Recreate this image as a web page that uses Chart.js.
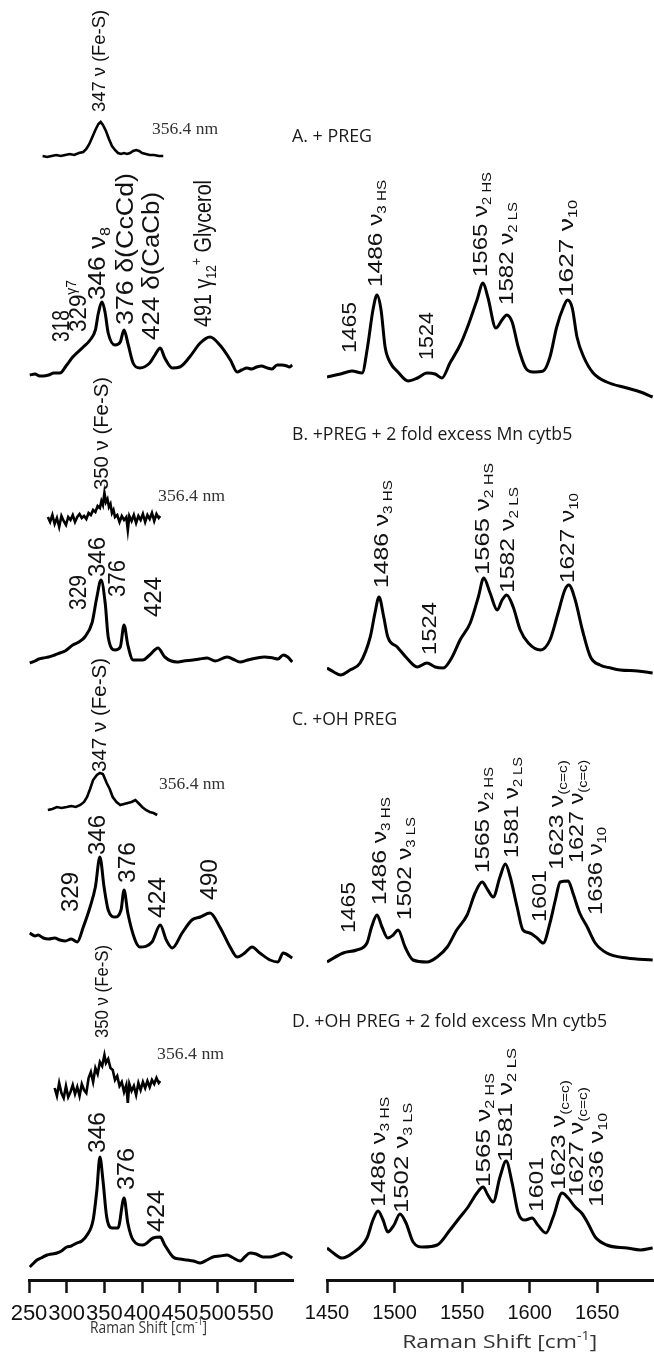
<!DOCTYPE html>
<html lang="en">
<head>
<meta charset="UTF-8">
<title>Resonance Raman spectra</title>
<style>
    body { margin: 0; background: #fff; }
    #wrap { position: relative; width: 654px; height: 1353px; }
    #low { position: absolute; left: 0; top: 0; }
    #high { position: absolute; left: 280px; top: 0; }
</style>
<script src="https://cdn.jsdelivr.net/npm/chart.js"></script>
</head>
<body>
<div id="wrap">
    <canvas id="low" width="300" height="1353"></canvas>
    <canvas id="high" width="374" height="1353"></canvas>
</div>
<script>
// tick labels
const lowTicks = [250, 300, 350, 400, 450, 500, 550];
const highTicks = [1450, 1500, 1550, 1600, 1650];

// A. + PREG
const aInsetX = [268,274,280,286,292,298,304,310,316,322,326,330,334,338,342,345,348,352,356,360,364,368,372,376,380,384,388,392,396,400,405,410,416,422,428];
const aInsetY = [0,-1,0,1,0,1,2,1,3,4,7,12,19,26,32,34,31,25,17,10,6,3,2,3,2,3,5,6,5,3,2,1,1,0,0];
const aLowX = [251,258,264,269,276,283,291,300,308,322,331,338,342,347,351,355,364,371,376,381,388,397,410,417,424,430,440,450,463,477,490,503,517,526,532,539,545,552,558,566,572,579,585,592,595,599];
const aLowY = [0,1,-1,-1,0,2,2,10,18,28,35,45,62,73,62,42,30,33,45,32,12,7,12,20,27,17,7,8,18,32,38,30,15,3,5,7,6,8,9,7,6,10,10,9,8,10];
const aHighX = [1450,1460,1468.5,1476,1480,1484,1487,1490,1493,1497,1502.5,1510,1517,1524,1530,1535,1541,1548.5,1554,1561,1565.5,1569,1575,1579.5,1583,1587,1591.5,1597,1602.5,1610,1615,1620,1625,1628,1631.5,1635,1640,1647,1657,1672,1682,1691];
const aHighY = [0,3,6,4,30,67,82,67,30,14,5,-4,-1,4,3,-1,14,32,50,77,94,80,49,57,62,55,30,9,5,6,20,50,70,77,69,40,20,4,-5,-11,-15,-20];

// B. +PREG + 2 fold excess Mn cytb5
const bInsetX = [275,278,281,284,287,290,293,296,299,302,305,308,311,314,317,320,323,326,329,332,335,338,341,344,346,348,350,352,354,356,358,360,362,364,367,370,373,376,379,381,383,386,389,392,395,398,401,404,407,410,413,416,419,422,424];
const bInsetY = [2,-3,4,-5,1,-8,3,-2,-6,2,-1,4,-3,2,5,1,3,0,6,4,9,7,13,11,18,14,26,17,20,12,15,6,9,2,4,-3,3,-1,2,-11,3,-2,4,-4,3,-1,5,-3,4,0,6,-2,5,1,3];
const bLowX = [251,258,263,269,276,284,291,298,308,316,324,333.5,340,345.5,351,355,364,371,376,381,388,401,410,421,430,446,455,467.5,476,486,497,512.6,520,530,540,552,562,573.6,580,587,593,599];
const bLowY = [-3,-1,1,2,3,5,7,9,15,18,23,37,63,80,57,23,10,13,35,15,0,0,5,12,3,-2,-1,0,1,2,-1,3,1,-2,0,2,3,2,1,5,3,-2];
const bHighX = [1450,1455,1460,1467,1474.5,1482,1485.5,1488.5,1492,1495,1502,1509,1516.7,1524,1530,1536,1542.6,1548.5,1556,1562,1566,1570.7,1576,1579.6,1583,1587.8,1593,1599,1608,1615,1621,1626,1629,1633.7,1639,1645,1652,1660,1667,1680,1691];
const bHighY = [0,-4,-7,-2,5,31,55,71,51,31,21,10,1,5,1,0,11,28,45,71,90,75,58,68,73,61,38,25,18,28,55,78,83,68,38,11,3,0,-2,-3,-5];

// C. +OH PREG
const cInsetX = [275,281,287,293,300,306,312,318,323,327,331,335,340,344,348,353,357,361,366,371,376,381,386,391,395,400,405,410,415,420];
const cInsetY = [-2,-1,1,0,1,2,1,3,6,11,19,28,33,35,34,25,19,11,6,3,4,5,6,8,5,1,-2,-4,-5,-7];
const cLowX = [251,258,262,269,276,284,291,298,306,314,322,331,338,344,349.5,355,364,372,376,381,390.6,397,413,424,432,440,453,466,477,490,503,516.6,526,536,545.7,556,569.6,580,587,599];
const cLowY = [7,4,5,2,1,2,0,-1,1,-2,13,33,53,83,53,30,23,30,50,27,0,-7,-2,15,0,-8,7,20,23,27,13,-7,-17,-13,-7,-13,-20,-22,-13,-18];
const cHighX = [1450,1462,1472,1479.6,1483,1487,1490.7,1495,1499,1502.6,1507.8,1513.7,1524,1531.5,1539,1546,1553.7,1559.6,1564.8,1569,1573,1578,1582,1585.6,1590.7,1595,1600,1605.5,1610,1615,1619,1622.6,1628.5,1632,1637,1642.6,1648.5,1657,1672,1691];
const cHighY = [-2,7,10,17,33,45,33,22,25,30,13,0,-2,3,13,30,45,67,78,70,63,83,96,83,53,30,27,22,17,37,60,78,79,67,47,33,17,7,2,0];

// D. +OH PREG + 2 fold excess Mn cytb5
const dInsetX = [284,287,290,293,296,299,302,305,308,311,314,317,320,323,326,329,332,335,338,341,344,347,350,352,355,358,361,364,367,370,373,376,379,381,383,386,389,392,395,398,401,404,407,410,413,416,419,422,424];
const dInsetY = [2,-6,7,-3,-8,4,-7,-2,5,-4,3,-6,6,0,-3,12,18,8,22,16,28,24,35,27,31,22,20,10,14,4,8,-2,5,-13,6,-1,4,-5,7,0,8,2,9,3,10,6,12,7,9];
const dLowX = [251,255,260.6,266,274,280,287,293,300,306,313.6,320,327,335,340,344,348,353,360,368,376,381,388,401,414.5,424,430,441,450,459.5,468,477,486,494,503,512.6,521,530,536,543,551,560,569,579,587,593,599];
const dLowY = [-5,-2,2,4,7,8,9,11,15,16,19,21,27,42,72,105,82,45,34,34,64,39,22,17,24,25,17,5,3,2,1,-1,2,5,6,7,4,1,5,9,8,5,5,7,9,7,4];
const dHighX = [1450,1454.7,1461,1469,1479.6,1484,1487.8,1491.5,1495,1499.6,1504,1508.5,1513.7,1521,1531.5,1541,1548.5,1554.4,1561,1565.5,1569,1573,1578,1582.6,1587,1591.5,1596.7,1601.8,1606,1612,1617.4,1624,1628.5,1633.7,1639,1643,1648.5,1657,1672,1682,1691];
const dHighY = [0,-5,-10,-5,10,28,37,28,16,23,34,25,6,1,3,18,31,41,55,61,53,46,71,87,65,35,28,30,23,15,31,55,50,41,34,25,11,3,0,-2,0];

// vertical stacking of the traces (baseline height above the axis)
const insetBase = { A: 1124, B: 761, C: 472, D: 190 };
const lowBase = { A: 905, B: 620, C: 340, D: 18 };
const highBase = { A: 903, B: 612, C: 320, D: 32 };

const SANS = '"Liberation Sans", Arial, sans-serif';
const SERIF = '"Liberation Serif", "Times New Roman", serif';
const MYRIAD = '"Open Sans", "Noto Sans", sans-serif';

// peak labels: x in cm-1, y = bottom of the text, top = where it ends
const lowNotes = [
    { x: 344.2, y: 1168, top: 1270, size: 19, text: '347 ν (Fe-S)' },
    { x: 413, x2: 500.7, y: 1150, flat: true, size: 17, family: SERIF, color: '#333', text: '356.4 nm' },
    { x: 295, y: 938, top: 970, size: 23, text: '318' },
    { x: 317.6, y: 948, top: 1000, size: 23, text: '329^{γ7}' },
    { x: 342.8, y: 980, top: 1053, size: 23, text: '346 ν_{8}' },
    { x: 380, y: 955, top: 1107, size: 23, text: '376 δ(CcCd)' },
    { x: 414.5, y: 940, top: 1088, size: 23, text: '424 δ(CaCb)' },
    { x: 483.4, y: 953, top: 1100, size: 23, text: '491 γ_{12}^{+} Glycerol' },

    { x: 346.8, y: 790, top: 903, size: 20, text: '350 ν (Fe-S)' },
    { x: 421.1, x2: 510, y: 783, flat: true, size: 17, family: SERIF, color: '#333', text: '356.4 nm' },
    { x: 317.6, y: 670, top: 705, size: 23, text: '329' },
    { x: 342.8, y: 703, top: 743, size: 23, text: '346' },
    { x: 369.4, y: 683, top: 720, size: 23, text: '376' },
    { x: 417, y: 663, top: 703, size: 23, text: '424' },

    { x: 344.2, y: 508, top: 622, size: 20, text: '347 ν (Fe-S)' },
    { x: 422.4, x2: 510, y: 495, flat: true, size: 17, family: SERIF, color: '#333', text: '356.4 nm' },
    { x: 307, y: 368, top: 408, size: 23, text: '329' },
    { x: 342.8, y: 425, top: 465, size: 23, text: '346' },
    { x: 382.6, y: 397, top: 438, size: 23, text: '376' },
    { x: 422.4, y: 362, top: 403, size: 23, text: '424' },
    { x: 491.4, y: 380, top: 421, size: 23, text: '490' },

    { x: 348, y: 242, top: 335, size: 18, text: '350 ν (Fe-S)' },
    { x: 419.8, x2: 508.6, y: 225, flat: true, size: 17, family: SERIF, color: '#333', text: '356.4 nm' },
    { x: 342.8, y: 127, top: 168, size: 23, text: '346' },
    { x: 381.3, y: 90, top: 132, size: 23, text: '376' },
    { x: 421, y: 48, top: 90, size: 23, text: '424' },

    { x: 330.9, x2: 486, y: -48, flat: true, size: 16, family: MYRIAD, color: '#333', text: 'Raman Shift [cm^{-1}]' }
];

const highNotes = [
    { x: 1424.1, x2: 1483.3, y: 1143, flat: true, size: 19, family: MYRIAD, color: '#1a1a1a', text: 'A. + PREG' },
    { x: 1467, y: 927, top: 978, size: 21, text: '1465' },
    { x: 1486.3, y: 993, top: 1100, size: 21, text: '1486 ν_{3 HS}' },
    { x: 1524, y: 920, top: 968, size: 21, text: '1524' },
    { x: 1564, y: 1003, top: 1108, size: 21, text: '1565 ν_{2 HS}' },
    { x: 1583.3, y: 975, top: 1078, size: 21, text: '1582 ν_{2 LS}' },
    { x: 1627.8, y: 983, top: 1080, size: 21, text: '1627 ν_{10}' },

    { x: 1424.1, x2: 1631.5, y: 845, flat: true, size: 19, family: MYRIAD, color: '#1a1a1a', text: 'B. +PREG + 2 fold excess Mn cytb5' },
    { x: 1490.7, y: 692, top: 800, size: 21, text: '1486 ν_{3 HS}' },
    { x: 1526.3, y: 625, top: 678, size: 21, text: '1524' },
    { x: 1565.6, y: 705, top: 817, size: 21, text: '1565 ν_{2 HS}' },
    { x: 1584, y: 687, top: 793, size: 21, text: '1582 ν_{2 LS}' },
    { x: 1628.5, y: 697, top: 787, size: 21, text: '1627 ν_{10}' },

    { x: 1424.1, x2: 1501.9, y: 560, flat: true, size: 19, family: MYRIAD, color: '#1a1a1a', text: 'C. +OH PREG' },
    { x: 1466.3, y: 347, top: 398, size: 21, text: '1465' },
    { x: 1489.3, y: 375, top: 483, size: 21, text: '1486 ν_{3 HS}' },
    { x: 1507.8, y: 360, top: 463, size: 21, text: '1502 ν_{3 LS}' },
    { x: 1565.6, y: 407, top: 513, size: 21, text: '1565 ν_{2 HS}' },
    { x: 1587, y: 422, top: 523, size: 21, text: '1581 ν_{2 LS}' },
    { x: 1607.8, y: 358, top: 410, size: 21, text: '1601' },
    { x: 1620.4, y: 410, top: 520, size: 21, text: '1623 ν_{(c=c)}' },
    { x: 1635.2, y: 417, top: 520, size: 21, text: '1627 ν_{(c=c)}' },
    { x: 1649.3, y: 365, top: 453, size: 21, text: '1636 ν_{10}' },

    { x: 1424.1, x2: 1657.4, y: 258, flat: true, size: 19, family: MYRIAD, color: '#1a1a1a', text: 'D. +OH PREG + 2 fold excess Mn cytb5' },
    { x: 1488.5, y: 73, top: 183, size: 21, text: '1486 ν_{3 HS}' },
    { x: 1505.6, y: 67, top: 177, size: 21, text: '1502 ν_{3 LS}' },
    { x: 1566.3, y: 93, top: 207, size: 21, text: '1565 ν_{2 HS}' },
    { x: 1582.6, y: 118, top: 232, size: 21, text: '1581 ν_{2 LS}' },
    { x: 1605.6, y: 68, top: 123, size: 21, text: '1601' },
    { x: 1621.9, y: 90, top: 200, size: 21, text: '1623 ν_{(c=c)}' },
    { x: 1635.2, y: 83, top: 193, size: 21, text: '1627 ν_{(c=c)}' },
    { x: 1650, y: 73, top: 167, size: 21, text: '1636 ν_{10}' },

    { x: 1505.6, x2: 1650, y: -63, flat: true, size: 19, family: MYRIAD, color: '#333', text: 'Raman Shift [cm^{-1}]' }
];

function trace(xs, ys, base, smooth) {
    return {
        data: xs.map((x, i) => ({ x: x, y: base + ys[i] })),
        borderColor: '#000',
        borderWidth: smooth ? 3 : 2.6,
        pointRadius: 0,
        fill: false,
        tension: 0,
        cubicInterpolationMode: smooth ? 'monotone' : 'default'
    };
}

// "_{..}" = subscript, "^{..}" = superscript
function parseRich(s) {
    const out = [];
    const re = /([_^])\{([^}]*)\}|([^_^]+)/g;
    let m;
    while ((m = re.exec(s))) {
        if (m[3]) out.push([m[3], 'n']);
        else out.push([m[2], m[1] === '_' ? 'sub' : 'sup']);
    }
    return out;
}

function fontFor(kind, size, fam) {
    const s = kind === 'n' ? size : size * 0.62;
    return s.toFixed(1) + 'px ' + fam;
}

function shiftFor(kind, size) {
    if (kind === 'sub') return size * 0.3;
    if (kind === 'sup') return -size * 0.36;
    return 0;
}

function notesPlugin(items) {
    return {
        id: 'notes',
        afterDraw(chart) {
            const ctx = chart.ctx;
            const xs = chart.scales.x, ys = chart.scales.y;
            items.forEach(n => {
                const parts = parseRich(n.text);
                const fam = n.family || SANS;
                let w = 0;
                parts.forEach(p => { ctx.font = fontFor(p[1], n.size, fam); w += ctx.measureText(p[0]).width; });
                const px = xs.getPixelForValue(n.x);
                const py = ys.getPixelForValue(n.y);
                const len = n.flat ? xs.getPixelForValue(n.x2) - px : py - ys.getPixelForValue(n.top);
                ctx.save();
                ctx.translate(px, py);
                if (!n.flat) ctx.rotate(-Math.PI / 2);
                ctx.scale(len / w, 1);
                ctx.fillStyle = n.color || '#111';
                ctx.textBaseline = 'middle';
                ctx.textAlign = 'left';
                let cx = 0;
                parts.forEach(p => {
                    ctx.font = fontFor(p[1], n.size, fam);
                    ctx.fillText(p[0], cx, shiftFor(p[1], n.size));
                    cx += ctx.measureText(p[0]).width;
                });
                ctx.restore();
            });
        }
    };
}

function spectraChart(id, min, max, ticks, tickSize, datasets, notes, padLeft, padRight) {
    return new Chart(document.getElementById(id), {
        type: 'line',
        data: { datasets: datasets },
        options: {
            responsive: false,
            animation: false,
            layout: { padding: { left: padLeft, right: padRight, top: 0, bottom: 0 } },
            plugins: { legend: { display: false }, tooltip: { enabled: false } },
            scales: {
                x: {
                    type: 'linear',
                    min: min,
                    max: max,
                    afterBuildTicks: s => { s.ticks = ticks.map(v => ({ value: v })); },
                    afterFit: s => { s.height = 73; },
                    border: { display: true, color: '#111', width: 3 },
                    grid: { drawOnChartArea: false, drawTicks: true, tickLength: 13, tickWidth: 2.5, tickColor: '#111', color: '#111' },
                    ticks: {
                        autoSkip: false,
                        maxRotation: 0,
                        padding: 8,
                        color: '#111',
                        font: { family: SANS, size: tickSize },
                        callback: v => String(v)
                    }
                },
                y: { display: false, min: 0, max: 1280 }
            }
        },
        plugins: [notesPlugin(notes)]
    });
}

spectraChart('low', 250, 600, lowTicks, 22, [
    trace(aInsetX, aInsetY, insetBase.A, false),
    trace(aLowX, aLowY, lowBase.A, true),
    trace(bInsetX, bInsetY, insetBase.B, false),
    trace(bLowX, bLowY, lowBase.B, true),
    trace(cInsetX, cInsetY, insetBase.C, false),
    trace(cLowX, cLowY, lowBase.C, true),
    trace(dInsetX, dInsetY, insetBase.D, false),
    trace(dLowX, dLowY, lowBase.D, true)
], lowNotes, 29, 7);

spectraChart('high', 1450, 1692, highTicks, 20, [
    trace(aHighX, aHighY, highBase.A, true),
    trace(bHighX, bHighY, highBase.B, true),
    trace(cHighX, cHighY, highBase.C, true),
    trace(dHighX, dHighY, highBase.D, true)
], highNotes, 47, 0);
</script>
</body>
</html>
